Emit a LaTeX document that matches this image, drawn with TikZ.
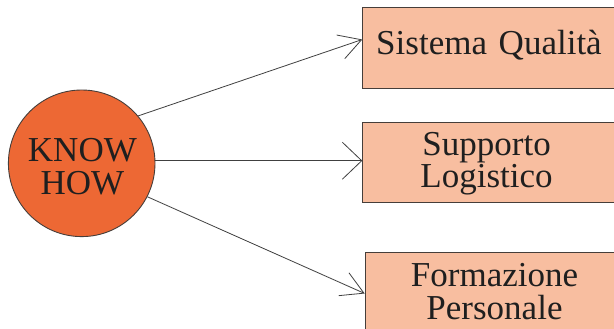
\documentclass[tikz,border=0pt]{standalone}
\usepackage{fontspec}
\setmainfont{Liberation Serif}
\newfontfamily\timesfam{Liberation Serif}
\usetikzlibrary{arrows.meta}
\definecolor{hubfill}{RGB}{237,104,52}
\definecolor{boxfill}{RGB}{248,190,160}
\definecolor{edgegray}{RGB}{70,62,58}
\tikzset{
  hub/.style={circle, draw=edgegray, line width=0.9pt, fill=hubfill, minimum size=146.6pt, inner sep=0pt},
  box/.style={rectangle, draw=edgegray, line width=1pt, fill=boxfill, anchor=north west, inner sep=0pt},
  txt/.style={font=\timesfam\fontsize{35}{32.5}\selectfont, text=black!88, inner sep=0pt, text width=250pt, align=center, anchor=base},
  link/.style={draw=black!75, line width=0.8pt},
}
\begin{document}
\begin{tikzpicture}[x=1pt,y=-1pt]
\useasboundingbox (0,0) rectangle (614,329);
\clip (0,0) rectangle (614,329);
\fill[white] (0,0) rectangle (614,329);
% hub
\node[hub] (k) at (81.7,163.3) {};
\node[txt, text width=140pt] (kt) at (82.4,161.7) {KNOW\\HOW};
% boxes
\node[box, minimum width=258pt, minimum height=81pt] (b1) at (362.3,7) {};
\node[box, minimum width=258pt, minimum height=80pt] (b2) at (362.3,122) {};
\node[box, minimum width=258pt, minimum height=82pt] (b3) at (364.7,252) {};
\node[txt] (t1) at (489,55) {Sistema Qualità};
\node[txt] (t2) at (486.6,155) {Supporto\\Logistico};
\node[txt] (t3) at (494.5,286.7) {Formazione\\Personale};
% connectors
\draw[link, -{Straight Barb[length=22pt, width=25pt]}] (k.40) -- ([yshift=8.5pt]b1.west);
\draw[link, -{Straight Barb[length=19.4pt, width=37pt]}] (k.2) -- (k.2 -| b2.west);
\draw[link, -{Straight Barb[length=22pt, width=25pt]}] (k.-27) -- (b3.west);
\end{tikzpicture}
\end{document}
